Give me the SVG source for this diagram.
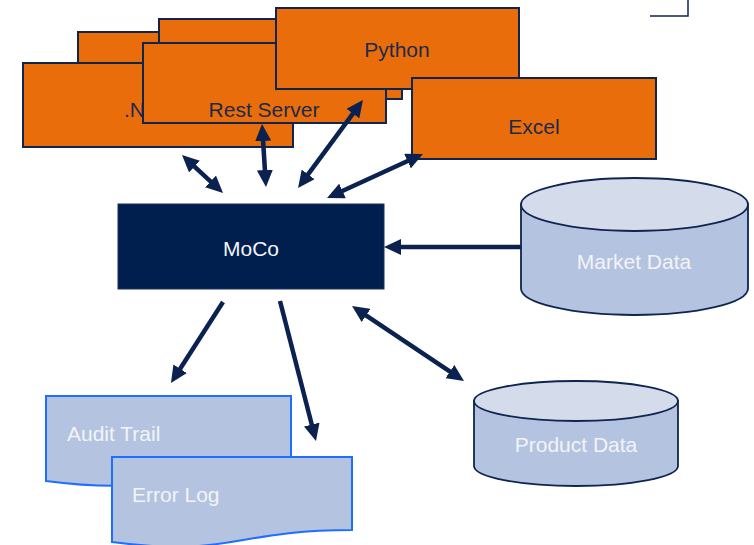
<svg xmlns="http://www.w3.org/2000/svg" width="754" height="545" viewBox="0 0 754 545">
  <style>
    .app { fill: #EA6D0B; stroke: #0F2550; stroke-width: 2; }
    .appText { font-family: "Liberation Sans", Arial, sans-serif; font-size: 21px; fill: #1B2A4A; }
    .lightText { font-family: "Liberation Sans", Arial, sans-serif; font-size: 21px; fill: #F2F4F8; }
    .link { stroke: #0B2150; stroke-width: 4.5; fill: none; }
    .cylBody { fill: #B4C3DF; stroke: #0F2550; stroke-width: 1.8; }
    .cylTop { fill: #D4DCEC; stroke: #0F2550; stroke-width: 1.8; }
    .doc { fill: #B4C3DF; stroke: #1F6FFF; stroke-width: 2; }
  </style>
  <defs>
    <marker id="head" viewBox="0 0 17 16" markerUnits="userSpaceOnUse" markerWidth="17" markerHeight="16" refX="11" refY="8" orient="auto-start-reverse">
      <path d="M0,0 L17,8 L0,16 Z" fill="#0B2150"/>
    </marker>
  </defs>

  <rect width="754" height="545" fill="#FFFFFF"/>

  <!-- corner mark, top right -->
  <path d="M650,16 H688 V0" fill="none" stroke="#0F2550" stroke-width="1.5"/>

  <!-- stacked client applications -->
  <g id="app-back-1"><rect class="app" x="78" y="32" width="270" height="84"/></g>
  <g id="app-back-2"><rect class="app" x="159" y="19" width="243" height="80"/></g>
  <g id="app-dotnet">
    <rect class="app" x="23" y="63" width="270" height="84"/>
    <text class="appText" x="124" y="117">.NET</text>
  </g>
  <g id="app-rest">
    <rect class="app" x="143" y="43" width="243" height="80"/>
    <text class="appText" x="264" y="117" text-anchor="middle">Rest Server</text>
  </g>
  <g id="app-python">
    <rect class="app" x="276" y="8" width="243" height="81"/>
    <text class="appText" x="397" y="57" text-anchor="middle">Python</text>
  </g>
  <g id="app-excel">
    <rect class="app" x="412" y="78" width="244" height="81"/>
    <text class="appText" x="534" y="134" text-anchor="middle">Excel</text>
  </g>

  <!-- core engine -->
  <g id="moco">
    <rect x="118" y="204" width="266" height="85" fill="#001E4E" stroke="#1A2E5A" stroke-width="1"/>
    <text class="lightText" x="251" y="256" text-anchor="middle">MoCo</text>
  </g>

  <!-- data stores -->
  <g id="market-data">
    <path class="cylBody" d="M521,204.5 V288.5 A113.5,26.5 0 0 0 748,288.5 V204.5 Z"/>
    <ellipse class="cylTop" cx="634.5" cy="204.5" rx="113.5" ry="26.5"/>
    <text class="lightText" x="634" y="269" text-anchor="middle">Market Data</text>
  </g>
  <g id="product-data">
    <path class="cylBody" d="M474,401 V466 A102,20 0 0 0 678,466 V401 Z"/>
    <ellipse class="cylTop" cx="576" cy="401" rx="102" ry="20"/>
    <text class="lightText" x="576" y="452" text-anchor="middle">Product Data</text>
  </g>

  <!-- output documents -->
  <g id="audit-trail">
    <path class="doc" d="M46,396 H291 V469 C168.5,469 168.5,496.8 46,481 Z"/>
    <text class="lightText" x="67" y="441">Audit Trail</text>
  </g>
  <g id="error-log">
    <path class="doc" d="M112,457 H352 V530 C232,530 232,557.8 112,542 Z"/>
    <text class="lightText" x="132" y="502">Error Log</text>
  </g>

  <!-- connectors -->
  <g id="connectors">
    <line class="link" x1="186.4" y1="159.1" x2="218.6" y2="188.9" marker-start="url(#head)" marker-end="url(#head)"/>
    <line class="link" x1="262.4" y1="130" x2="265.6" y2="181" marker-start="url(#head)" marker-end="url(#head)"/>
    <line class="link" x1="301.6" y1="183.2" x2="359.4" y2="104.8" marker-start="url(#head)" marker-end="url(#head)"/>
    <line class="link" x1="332.5" y1="195.5" x2="417.5" y2="156.5" marker-start="url(#head)" marker-end="url(#head)"/>
    <line class="link" x1="521" y1="247" x2="390" y2="247" marker-end="url(#head)"/>
    <line class="link" x1="223" y1="302" x2="174.2" y2="378" marker-end="url(#head)"/>
    <line class="link" x1="280" y1="301" x2="314.5" y2="435.2" marker-end="url(#head)"/>
    <line class="link" x1="357" y1="309.3" x2="459" y2="377.7" marker-start="url(#head)" marker-end="url(#head)"/>
  </g>
</svg>
